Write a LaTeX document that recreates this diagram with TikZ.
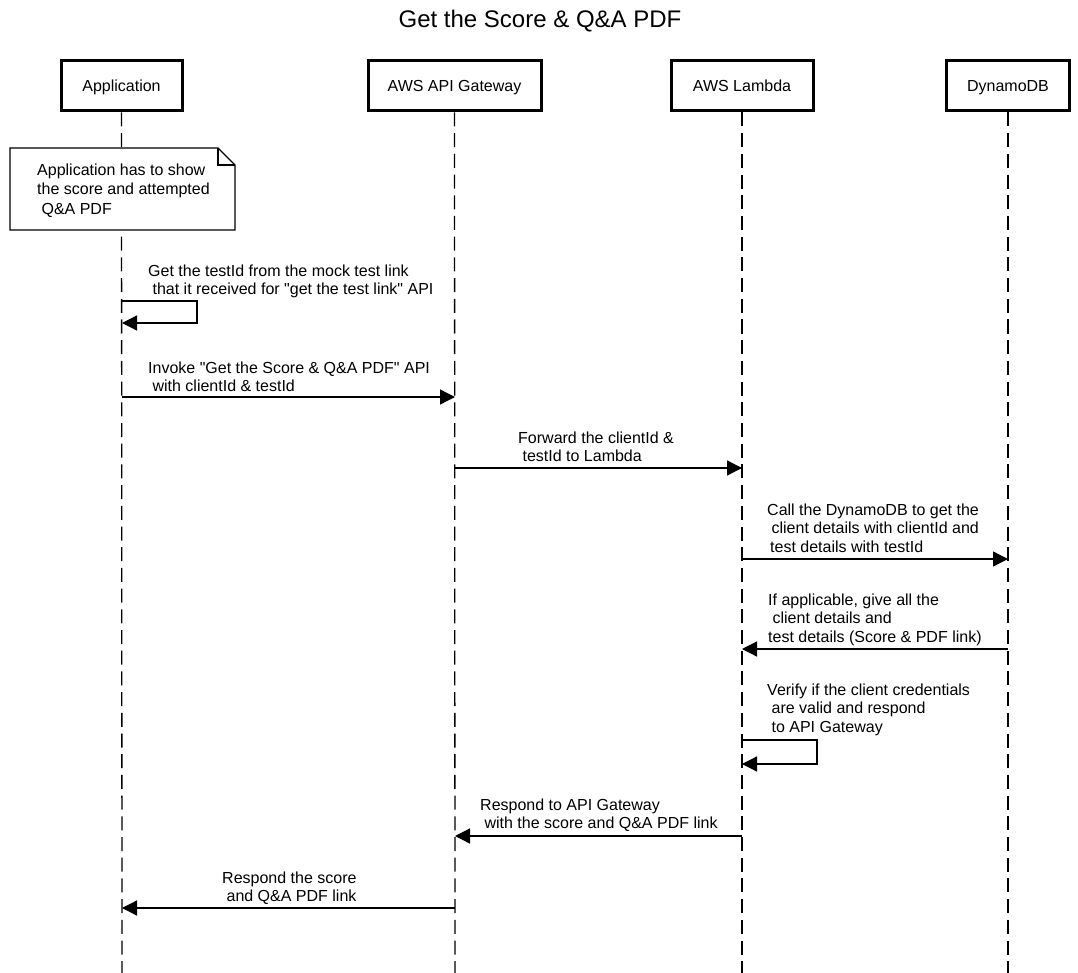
\documentclass[tikz,border=0pt]{standalone}
\usepackage{fontspec}
\setmainfont{Liberation Sans}[Ligatures=TeXOff]
\usetikzlibrary{arrows.meta}
\begin{document}
\begin{tikzpicture}[x=1pt,y=-1pt,
  actor/.style={draw, line width=3pt, fill=white, minimum height=50pt, inner sep=0pt, text height=11.5pt, text depth=0.5pt, font=\fontsize{16}{18.5}\selectfont},
  life/.style={line width=1.3pt, dash pattern=on 14pt off 6.7pt},
  msg/.style={line width=1.3pt, -{Triangle[length=15pt,width=15pt]}},
  lbl/.style={anchor=north west, inner sep=0pt, align=left, font=\fontsize{16}{18.5}\selectfont},
  notebox/.style={draw, fill=white, line width=1.3pt, line join=miter},
]
\useasboundingbox (0,0) rectangle (1078,973);

% title
\node[anchor=base, inner sep=0pt, font=\fontsize{24}{28}\selectfont] (title) at (540,28) {Get the Score \& Q\&A PDF};

% participants
\node[actor, minimum width=121pt] (app) at (121.5,86) {Application};
\node[actor, minimum width=173pt] (api) at (454.5,86) {AWS API Gateway};
\node[actor, minimum width=142pt] (lam) at (742,86) {AWS Lambda};
\node[actor, minimum width=123pt] (ddb) at (1008,86) {DynamoDB};

% lifeline ends
\coordinate (appE) at (122,973);
\coordinate (apiE) at (455,973);
\coordinate (lamE) at (742,973);
\coordinate (ddbE) at (1008,973);
\draw[life] (app.south) -- (appE);
\draw[life] (api.south) -- (apiE);
\draw[life] (lam.south) -- (lamE);
\draw[life] (ddb.south) -- (ddbE);

% note
\draw[notebox] (10,148) -- (218,148) -- (235,165) -- (235,230) -- (10,230) -- cycle;
\draw[line width=1.3pt] (218,148) -- (218,165) -- (235,165);
\node[anchor=north west, inner sep=0pt, align=left, font=\fontsize{16}{19.5}\selectfont] (notetxt) at (37,161.35)
  {\strut Application has to show\\the score and attempted\\\hspace*{4.4pt}Q\&A PDF};

% message 1: self on application
\node[lbl] (t1) at (148,263.05) {\strut Get the testId from the mock test link\\\hspace*{4.4pt}that it received for "get the test link" API};
\coordinate (s1a) at (122,301);
\coordinate (s1b) at (197,301);
\coordinate (s1c) at (197,323);
\coordinate (s1d) at (122,323);
\draw[msg] (s1a) -- (s1b) -- (s1c) -- (s1d);

% message 2
\node[lbl] (t2) at (148,360.05) {\strut Invoke "Get the Score \& Q\&A PDF" API\\\hspace*{4.4pt}with clientId \& testId};
\coordinate (m2a) at (122,397);
\coordinate (m2b) at (455,397);
\draw[msg] (m2a) -- (m2b);

% message 3
\node[lbl] (t3) at (518,430.05) {\strut Forward the clientId \&\\\hspace*{4.4pt}testId to Lambda};
\coordinate (m3a) at (455,468);
\coordinate (m3b) at (742,468);
\draw[msg] (m3a) -- (m3b);

% message 4
\node[lbl] (t4) at (767,502.05) {\strut Call the DynamoDB to get the\\\hspace*{4.4pt}client details with clientId and\\\hspace*{3pt}test details with testId};
\coordinate (m4a) at (742,559);
\coordinate (m4b) at (1008,559);
\draw[msg] (m4a) -- (m4b);

% message 5
\node[lbl] (t5) at (768,592.05) {\strut If applicable, give all the\\\hspace*{4.4pt}client details and\\test details (Score \& PDF link)};
\coordinate (m5a) at (1008,649);
\coordinate (m5b) at (742,649);
\draw[msg] (m5a) -- (m5b);

% message 6: self on lambda
\node[lbl] (t6) at (767,682.05) {\strut Verify if the client credentials\\\hspace*{4.4pt}are valid and respond\\\hspace*{4.4pt}to API Gateway};
\coordinate (s6a) at (742,740);
\coordinate (s6b) at (817,740);
\coordinate (s6c) at (817,764);
\coordinate (s6d) at (742,764);
\draw[msg] (s6a) -- (s6b) -- (s6c) -- (s6d);

% message 7
\node[lbl] (t7) at (480,797.05) {\strut Respond to API Gateway\\\hspace*{4.4pt}with the score and Q\&A PDF link};
\coordinate (m7a) at (742,836);
\coordinate (m7b) at (455,836);
\draw[msg] (m7a) -- (m7b);

% message 8
\node[lbl] (t8) at (222,870.05) {\strut Respond the score\\\hspace*{4.4pt}and Q\&A PDF link};
\coordinate (m8a) at (455,908);
\coordinate (m8b) at (122,908);
\draw[msg] (m8a) -- (m8b);

\end{tikzpicture}
\end{document}
